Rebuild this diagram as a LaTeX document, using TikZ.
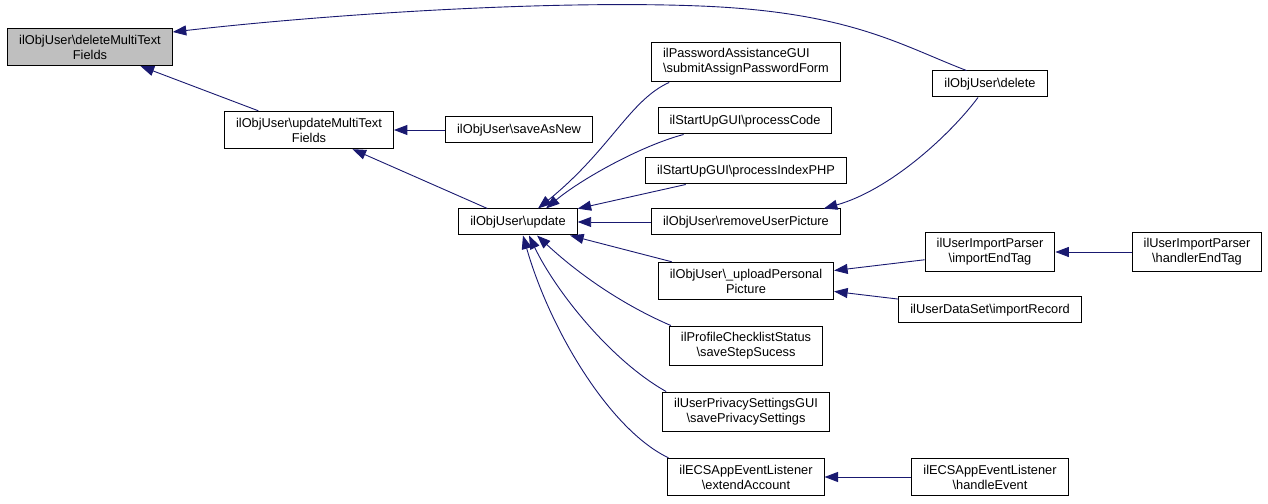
\documentclass[tikz,border=0pt]{standalone}
\usepackage{fontspec}
\setmainfont{Liberation Sans}
\usetikzlibrary{arrows.meta,positioning}
\definecolor{edgeblue}{HTML}{191970}
\definecolor{curgray}{HTML}{BFBFBF}
\newcommand{\fnsep}{\textbackslash}

\begin{document}
\begin{tikzpicture}[x=1pt,y=1pt,
    fnbox/.style={draw=black, line width=1pt, fill=white, align=center,
        inner xsep=11.5pt, inner ysep=6.5pt, minimum height=26pt,
        font=\fontsize{12.8}{15}\selectfont},
    fncur/.style={fnbox, fill=curgray},
    calledge/.style={draw=edgeblue, line width=0.9pt,
        -{Triangle[length=13.5pt,width=10pt]}}]
    \useasboundingbox (0,0) rectangle (1268,503);

    % Functions, one column per call depth
    \node[fncur] (delmt) at (90,456) {ilObjUser\fnsep deleteMultiText\\Fields};
    \node[fnbox] (updmt) at (309,373) {ilObjUser\fnsep updateMultiText\\Fields};
    \node[fnbox] (saveasnew) at (519,373) {ilObjUser\fnsep saveAsNew};
    \node[fnbox] (update) at (518,281) {ilObjUser\fnsep update};

    \node[fnbox, align=left] (pwd) at (746,441) {ilPasswordAssistanceGUI\\\fnsep submitAssignPasswordForm};
    \node[fnbox] (pcode) at (745,382) {ilStartUpGUI\fnsep processCode};
    \node[fnbox] (pindex) at (746,332) {ilStartUpGUI\fnsep processIndexPHP};
    \node[fnbox] (rmpic) at (746,281) {ilObjUser\fnsep removeUserPicture};
    \node[fnbox] (upload) at (746,222) {ilObjUser\fnsep\_uploadPersonal\\Picture};
    \node[fnbox] (savestep) at (746,157) {ilProfileChecklistStatus\\\fnsep saveStepSucess};
    \node[fnbox] (privacy) at (746,91) {ilUserPrivacySettingsGUI\\\fnsep savePrivacySettings};
    \node[fnbox] (extend) at (746,26) {ilECSAppEventListener\\\fnsep extendAccount};

    \node[fnbox] (delete) at (990,419) {ilObjUser\fnsep delete};
    \node[fnbox] (importend) at (990,251) {ilUserImportParser\\\fnsep importEndTag};
    \node[fnbox] (importrec) at (990,193) {ilUserDataSet\fnsep importRecord};
    \node[fnbox] (handle) at (990,26) {ilECSAppEventListener\\\fnsep handleEvent};
    \node[fnbox] (handler) at (1197,251) {ilUserImportParser\\\fnsep handlerEndTag};

    % Straight calls
    \draw[calledge] (updmt) -- (delmt);
    \draw[calledge] (saveasnew) -- (updmt);
    \draw[calledge] (update) -- (updmt);
    \draw[calledge] (pindex) -- (update);
    \draw[calledge] (rmpic) -- (update);
    \draw[calledge] (upload) -- (update);
    \draw[calledge] (importend) -- (upload);
    \draw[calledge] (importrec) -- (upload);
    \draw[calledge] (handler) -- (importend);
    \draw[calledge] (handle) -- (extend);

    % Curved calls
    \draw[calledge] ([xshift=18pt]pwd.south west) .. controls (630,403) and (610,353) .. ([xshift=20pt]update.north);
    \draw[calledge] ([xshift=26pt]pcode.south west) .. controls (640,357) and (580,323) .. ([xshift=28pt]update.north);
    \draw[calledge] ([xshift=2pt]savestep.north west) .. controls (630,195) and (585,223) .. ([xshift=19pt]update.south);
    \draw[calledge] ([xshift=4pt]privacy.north west) .. controls (610,143) and (555,213) .. ([xshift=11pt]update.south);
    \draw[calledge] ([xshift=1pt]extend.north west) .. controls (610,73) and (550,173) .. ([xshift=5pt]update.south);
    \draw[calledge] ([xshift=34pt]delete.north west) .. controls (900,458) and (850,491) .. (700,497)
        .. controls (550,503) and (330,489) .. ([yshift=15pt]delmt.east);
    \draw[calledge] ([xshift=-12pt]delete.south) .. controls (950,368) and (890,313) .. ([xshift=-17pt]rmpic.north east);
\end{tikzpicture}
\end{document}
